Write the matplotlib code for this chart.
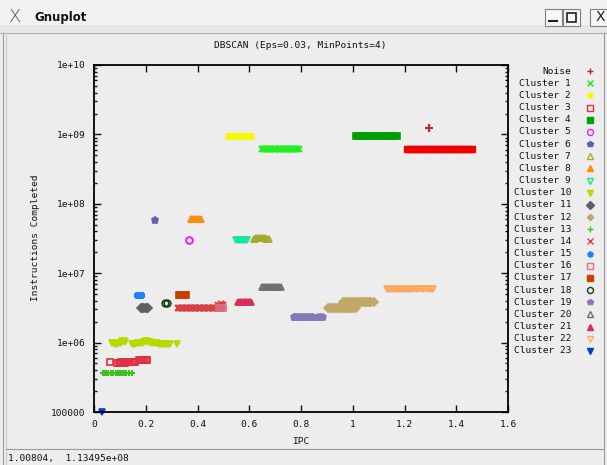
import matplotlib
matplotlib.use("Agg")
import matplotlib.pyplot as plt
from matplotlib.patches import Rectangle
from matplotlib.ticker import FixedLocator, LogLocator, NullFormatter

plt.rcParams['font.family'] = ['DejaVu Sans Mono']
FS = 6.8

# ---------------- data ----------------
title = "DBSCAN (Eps=0.03, MinPoints=4)"
xlabel = "IPC"
ylabel = "Instructions Completed"
xticks = [0, 0.2, 0.4, 0.6, 0.8, 1.0, 1.2, 1.4, 1.6]
xtick_labels = ["0", "0.2", "0.4", "0.6", "0.8", "1", "1.2", "1.4", "1.6"]
yticks = [1e5, 1e6, 1e7, 1e8, 1e9, 1e10]
ytick_labels = ["100000", "1e+06", "1e+07", "1e+08", "1e+09", "1e+10"]

noise_x = [1.295]
noise_y = [1.23e9]

c0_x = [1.21, 1.22, 1.23, 1.24, 1.25, 1.26, 1.27, 1.28, 1.29, 1.30, 1.31, 1.32, 1.33,
        1.34, 1.35, 1.36, 1.37, 1.38, 1.39, 1.40, 1.41, 1.42, 1.43, 1.44, 1.45, 1.46]
c0_y = [6.1e8] * 26

c1_x = [0.648, 0.655, 0.66, 0.665, 0.67, 0.675, 0.68, 0.685, 0.69, 0.695, 0.70, 0.705, 0.71,
        0.715, 0.72, 0.725, 0.73, 0.735, 0.74, 0.745, 0.75, 0.755, 0.76, 0.765, 0.77, 0.775,
        0.78, 0.785, 0.792]
c1_y = [6.1e8] * 29
c2_x = [0.517, 0.522, 0.528, 0.535, 0.54, 0.545, 0.55, 0.555, 0.56, 0.565, 0.57, 0.575,
        0.58, 0.585, 0.59, 0.595, 0.60, 0.608]
c2_y = [9.4e8] * 18
c3_x = [0.062, 0.088, 0.095, 0.10, 0.105, 0.11, 0.115, 0.12, 0.125, 0.13, 0.135, 0.14, 0.145,
        0.15, 0.155, 0.16, 0.175, 0.18, 0.185, 0.19, 0.195, 0.20, 0.205]
c3_y = [5.2e5, 5.1e5, 5.1e5, 5.1e5, 5.2e5, 5.2e5, 5.1e5, 5.1e5, 5.2e5, 5.2e5, 5.2e5, 5.2e5,
        5.3e5, 5.3e5, 5.3e5, 5.3e5, 5.6e5, 5.6e5, 5.6e5, 5.7e5, 5.7e5, 5.6e5, 5.6e5]
c4_x = [1.012, 1.02, 1.03, 1.04, 1.05, 1.06, 1.07, 1.083, 1.097, 1.11, 1.122, 1.13, 1.14, 1.15, 1.16, 1.172]
c4_y = [9.4e8] * 16
c5_x = [0.366, 0.369]
c5_y = [3.0e7, 3.0e7]
c6_x = [0.236]
c6_y = [5.8e7]
c7_x = [0.618, 0.622, 0.628, 0.635, 0.64, 0.645, 0.65, 0.655, 0.66, 0.665, 0.67, 0.675]
c7_y = [3.1e7, 3.1e7, 3.2e7, 3.2e7, 3.2e7, 3.2e7, 3.2e7, 3.2e7, 3.2e7, 3.1e7, 3.1e7, 3.1e7]
c8_x = [0.375, 0.38, 0.385, 0.39, 0.395, 0.40, 0.405, 0.412]
c8_y = [6.0e7] * 8
c9_x = [0.55, 0.555, 0.56, 0.565, 0.57, 0.575, 0.58, 0.585, 0.59]
c9_y = [3.0e7] * 9
c10_x = [0.068, 0.075, 0.08, 0.085, 0.09, 0.095, 0.10, 0.105, 0.11, 0.115, 0.12, 0.145, 0.15,
         0.155, 0.16, 0.165, 0.17, 0.175, 0.18, 0.185, 0.19, 0.195, 0.20, 0.205, 0.21, 0.215,
         0.22, 0.225, 0.23, 0.235, 0.24, 0.245, 0.25, 0.255, 0.26, 0.265, 0.27, 0.275, 0.28,
         0.285, 0.29, 0.295, 0.322]
c10_y = [1.0e6, 9.8e5, 9.7e5, 9.7e5, 9.7e5, 9.8e5, 9.8e5, 1.0e6, 1.04e6, 1.04e6, 1.03e6,
         9.6e5, 9.6e5, 9.7e5, 9.7e5, 9.8e5, 9.8e5, 9.8e5, 9.9e5, 1.0e6, 1.02e6, 1.03e6, 1.04e6,
         1.04e6, 1.03e6, 1.02e6, 1.0e6, 9.9e5, 9.8e5, 9.8e5, 9.8e5, 9.8e5, 9.7e5, 9.7e5, 9.7e5,
         9.6e5, 9.6e5, 9.6e5, 9.6e5, 9.6e5, 9.6e5, 9.6e5, 9.5e5]
c11_x = [0.18, 0.185, 0.19, 0.195, 0.20, 0.205, 0.21]
c11_y = [3.1e6] * 7
c12_x = [0.905, 0.91, 0.915, 0.92, 0.925, 0.93, 0.935, 0.94, 0.945, 0.95, 0.955, 0.96, 0.965,
         0.97, 0.975, 0.98, 0.985, 0.99, 0.995, 1.0, 1.005, 1.013,
         0.962, 0.967, 0.972, 0.977, 0.982, 0.987, 0.992, 0.997, 1.002, 1.007, 1.012, 1.017,
         1.022, 1.027, 1.032, 1.037, 1.042, 1.047, 1.052, 1.057, 1.062, 1.067, 1.072, 1.083]
c12_y = [3.1e6] * 22 + [3.9e6] * 24
c13_x = [0.035, 0.04, 0.045, 0.05, 0.055, 0.065, 0.075, 0.085, 0.09, 0.095, 0.105, 0.11,
         0.115, 0.12, 0.125, 0.135, 0.145]
c13_y = [3.6e5] * 17
c14_x = [0.325, 0.33, 0.335, 0.34, 0.345, 0.35, 0.355, 0.36, 0.365, 0.37, 0.375, 0.38, 0.385,
         0.39, 0.395, 0.40, 0.405, 0.41, 0.415, 0.42, 0.425, 0.43, 0.435, 0.44, 0.445, 0.45,
         0.455, 0.46, 0.465, 0.47, 0.475, 0.48, 0.485, 0.49, 0.495, 0.48, 0.49, 0.50]
c14_y = [3.1e6] * 35 + [3.5e6, 3.55e6, 3.5e6]
c15_x = [0.168, 0.173, 0.178, 0.183]
c15_y = [4.8e6] * 4
c16_x = [0.482, 0.49, 0.498]
c16_y = [3.1e6] * 3
c17_x = [0.327, 0.332, 0.337, 0.342, 0.347, 0.352, 0.357]
c17_y = [4.9e6] * 7
c18_x = [0.274, 0.282]
c18_y = [3.7e6] * 2
c19_x = [0.772, 0.777, 0.782, 0.787, 0.792, 0.797, 0.802, 0.807, 0.812, 0.817, 0.822, 0.827,
         0.832, 0.837, 0.842, 0.848, 0.866, 0.872, 0.878, 0.885]
c19_y = [2.3e6] * 20
c20_x = [0.648, 0.655, 0.66, 0.665, 0.67, 0.675, 0.68, 0.685, 0.69, 0.695, 0.70, 0.705,
         0.71, 0.715, 0.722]
c20_y = [6.3e6] * 15
c21_x = [0.558, 0.563, 0.568, 0.573, 0.578, 0.583, 0.588, 0.593, 0.598, 0.603, 0.607]
c21_y = [3.9e6] * 11
c22_x = [1.133, 1.138, 1.143, 1.148, 1.153, 1.158, 1.163, 1.168, 1.173, 1.178, 1.183, 1.188,
         1.193, 1.198, 1.203, 1.208, 1.213, 1.218, 1.223, 1.228, 1.233, 1.243, 1.253, 1.263,
         1.273, 1.283, 1.293, 1.303, 1.31]
c22_y = [5.9e6] * 29
c23_x = [0.03]
c23_y = [1.0e5]

# (label, x, y, marker, color, filled, size)
series = [
    ("Noise", noise_x, noise_y, "+", "#c8202a", False, 5.5),
    ("Cluster 1", c1_x, c1_y, "x", "#20f020", False, 4.5),
    ("Cluster 2", c2_x, c2_y, (8, 2, 0), "#f8f800", False, 5),
    ("Cluster 3", c3_x, c3_y, "s", "#e03040", False, 4.2),
    ("Cluster 4", c4_x, c4_y, "s", "#00a000", True, 4.2),
    ("Cluster 5", c5_x, c5_y, "o", "#f020f0", False, 4.8),
    ("Cluster 6", c6_x, c6_y, "p", "#6060b0", True, 4.5),
    ("Cluster 7", c7_x, c7_y, "^", "#a8a830", False, 5),
    ("Cluster 8", c8_x, c8_y, "^", "#ff8c10", True, 4.5),
    ("Cluster 9", c9_x, c9_y, "v", "#10e8a0", False, 5),
    ("Cluster 10", c10_x, c10_y, "v", "#b8d800", True, 5),
    ("Cluster 11", c11_x, c11_y, "D", "#606060", True, 4),
    ("Cluster 12", c12_x, c12_y, "D", "#c0a868", True, 3.6),
    ("Cluster 13", c13_x, c13_y, "+", "#40c020", False, 5),
    ("Cluster 14", c14_x, c14_y, "x", "#d84048", False, 5),
    ("Cluster 15", c15_x, c15_y, (8, 2, 0), "#1e80ff", False, 5),
    ("Cluster 16", c16_x, c16_y, "s", "#e07080", False, 4.2),
    ("Cluster 17", c17_x, c17_y, "s", "#c84000", True, 4.2),
    ("Cluster 18", c18_x, c18_y, "o", "#104010", False, 4.8),
    ("Cluster 19", c19_x, c19_y, "p", "#8878b8", True, 4.5),
    ("Cluster 20", c20_x, c20_y, "^", "#707070", False, 5),
    ("Cluster 21", c21_x, c21_y, "^", "#d83058", True, 4.5),
    ("Cluster 22", c22_x, c22_y, "v", "#ffa860", False, 5),
    ("Cluster 23", c23_x, c23_y, "v", "#0040c8", True, 4.5),
]

W, H = 607, 465
fig = plt.figure(figsize=(W / 100, H / 100), dpi=100)
fig.patch.set_facecolor("#ededed")

# ---------------- window chrome (overlay in pixel coords) ----------------
ov = fig.add_axes([0, 0, 1, 1], zorder=0)
ov.set_xlim(0, W)
ov.set_ylim(H, 0)
ov.axis("off")
ov.add_patch(Rectangle((0, 0), W, 33, facecolor="#f2f2f2", edgecolor="none"))
ov.add_patch(Rectangle((0, 25), W, 8, facecolor="#e6e6e6", edgecolor="none"))
ov.plot([0, W], [33, 33], color="#b0b0b0", lw=0.8)
ov.plot([3, 3], [33, H], color="#9a9a9a", lw=0.8)
ov.plot([6, 6], [33, H], color="#c8c8c8", lw=0.8)
ov.plot([W - 3, W - 3], [33, H], color="#9a9a9a", lw=0.8)
ov.plot([6, W - 3], [449, 449], color="#9a9a9a", lw=0.8)
ov.text(9, 17, "X", fontsize=13, color="#505050", ha="left", va="center",
        family="DejaVu Sans", fontweight="light")
ov.text(34, 17, "Gnuplot", fontsize=8.5, color="#111111", ha="left", va="center",
        family="DejaVu Sans", fontweight="bold")
for bx in (545, 563):
    ov.add_patch(Rectangle((bx, 9), 17, 17, facecolor="#f6f6f6", edgecolor="#808080", lw=0.8))
ov.plot([549, 557], [21, 21], color="#202020", lw=1.5)
ov.add_patch(Rectangle((567, 13), 9, 9, facecolor="none", edgecolor="#202020", lw=1.2))
ov.add_patch(Rectangle((590, 9), 17, 17, facecolor="#f6f6f6", edgecolor="#808080", lw=0.8))
ov.text(600, 17, "X", fontsize=10, color="#202020", ha="center", va="center", family="DejaVu Sans")
ov.text(8, 458, "1.00804,  1.13495e+08", fontsize=FS, color="#111111", ha="left", va="center")

# title / axis labels
ov.text(300, 46, title, fontsize=FS, ha="center", va="center", color="#111111")
ov.text(301, 441, xlabel, fontsize=FS, ha="center", va="center", color="#111111")
ov.text(35, 238, ylabel, fontsize=FS, ha="center", va="center", rotation=90, color="#111111")

# legend (manual, right aligned text)
row0, dy = 71, 12.17
for i, (lab, xs, ys, mk, col, filled, ms) in enumerate(series):
    yy = row0 + i * dy
    ov.text(571, yy, lab, fontsize=FS, ha="right", va="center", color="#111111")
    ov.plot([590], [yy], marker=mk, linestyle="none", markersize=ms * 0.9,
            markerfacecolor=col if filled else "none", markeredgecolor=col,
            markeredgewidth=1.0)

# ---------------- main plot ----------------
ax = fig.add_axes([94 / W, 1 - 412 / H, (508 - 94) / W, (412 - 65) / H], zorder=1)
ax.set_facecolor("none")
ax.set_yscale("log")
ax.set_xlim(0, 1.6)
ax.set_ylim(1e5, 1e10)

ax.plot(c0_x, c0_y, linestyle="none", marker="s", markersize=4.3,
        markerfacecolor="#ee0000", markeredgecolor="#ee0000")
for lab, xs, ys, mk, col, filled, ms in series:
    lw = 1.5 if mk in ("x", "+", (8, 2, 0)) else 1.2
    ax.plot(xs, ys, linestyle="none", marker=mk, markersize=ms,
            markerfacecolor=col if filled else "none", markeredgecolor=col,
            markeredgewidth=lw, clip_on=False)

ax.xaxis.set_major_locator(FixedLocator(xticks))
ax.set_xticklabels(xtick_labels)
ax.yaxis.set_major_locator(FixedLocator(yticks))
ax.set_yticklabels(ytick_labels)
ax.yaxis.set_minor_locator(LogLocator(base=10, subs=[2, 3, 4, 5, 6, 7, 8, 9]))
ax.yaxis.set_minor_formatter(NullFormatter())
ax.tick_params(which="both", direction="in", top=True, right=True, labelsize=FS,
               colors="#111111", width=1.0)
ax.tick_params(which="major", length=5, pad=6)
ax.tick_params(which="minor", length=2.5)
for sp in ax.spines.values():
    sp.set_linewidth(1.3)
    sp.set_color("#000000")

fig.savefig("out.png", dpi=100, facecolor=fig.get_facecolor())
